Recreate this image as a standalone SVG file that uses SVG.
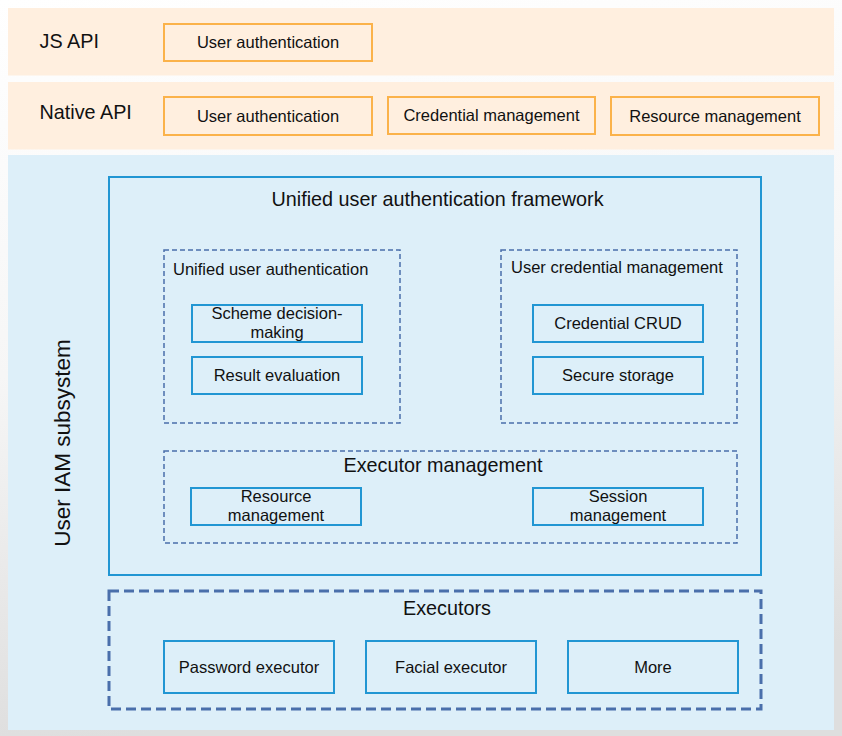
<svg xmlns="http://www.w3.org/2000/svg" width="842" height="736" viewBox="0 0 842 736">
<defs>
<linearGradient id="bg" x1="0" y1="0" x2="0.15" y2="1">
<stop offset="0" stop-color="#ffffff"/>
<stop offset="0.5" stop-color="#f6f6f6"/>
<stop offset="1" stop-color="#dedede"/>
</linearGradient>
<style>
text{font-family:"Liberation Sans",Arial,sans-serif;fill:#111;}
.band{fill:#ffefdf;}
.api{fill:none;stroke:#fbb24a;stroke-width:2;}
.blue{fill:none;stroke:#2196d3;stroke-width:2;}
.dash{fill:none;stroke:#4a6fab;stroke-width:1.5;stroke-dasharray:5 3;}
.dash2{fill:none;stroke:#4a6fab;stroke-width:3;stroke-dasharray:10 5;}
.t16{font-size:16.5px;}
.t19{font-size:19.8px;}
.c{text-anchor:middle;}
</style>
</defs>
<rect x="0" y="0" width="842" height="736" fill="url(#bg)"/>
<g id="js-api">
<rect class="band" x="8" y="8" width="826" height="67.5"/>
<text class="t19" x="39.5" y="48">JS API</text>
<g id="js-user-auth"><rect class="api" x="164" y="24" width="208" height="37"/><text class="t16 c" x="268" y="48">User authentication</text></g>
</g>
<g id="native-api">
<rect class="band" x="8" y="82" width="826" height="67.5"/>
<text class="t19" x="39.5" y="119">Native API</text>
<g id="native-user-auth"><rect class="api" x="164" y="97" width="208" height="38"/><text class="t16 c" x="268" y="122">User authentication</text></g>
<g id="native-cred"><rect class="api" x="388" y="97" width="207" height="37"/><text class="t16 c" x="491.5" y="121">Credential management</text></g>
<g id="native-res"><rect class="api" x="611" y="97" width="208" height="38"/><text class="t16 c" x="715" y="122">Resource management</text></g>
</g>
<g id="iam">
<rect x="8" y="155" width="826" height="575" fill="#ddeff9"/>
<text class="c" font-size="22.5" transform="translate(70,443) rotate(-90)">User IAM subsystem</text>
</g>
<g id="framework">
<rect class="blue" x="109" y="177" width="652" height="398"/>
<text class="t19 c" x="437.5" y="206">Unified user authentication framework</text>
</g>
<g id="unified-auth">
<rect class="dash" x="164" y="250" width="236" height="173"/>
<text class="t16" x="173" y="275">Unified user authentication</text>
</g>
<g id="scheme"><rect class="blue" x="192" y="305" width="170" height="37"/><text class="t16 c" x="277" y="319">Scheme decision-</text><text class="t16 c" x="277" y="338">making</text></g>
<g id="result"><rect class="blue" x="192" y="357" width="170" height="37"/><text class="t16 c" x="277" y="381">Result evaluation</text></g>
<g id="cred-mgmt">
<rect class="dash" x="501" y="250" width="236" height="173"/>
<text class="t16" x="511" y="273">User credential management</text>
</g>
<g id="crud"><rect class="blue" x="533" y="305" width="170" height="37"/><text class="t16 c" x="618" y="329">Credential CRUD</text></g>
<g id="storage"><rect class="blue" x="533" y="357" width="170" height="37"/><text class="t16 c" x="618" y="381">Secure storage</text></g>
<g id="executor-mgmt">
<rect class="dash" x="164" y="451" width="573" height="92"/>
<text class="t19 c" x="443" y="472">Executor management</text>
</g>
<g id="res-mgmt"><rect class="blue" x="191" y="488" width="170" height="37"/><text class="t16 c" x="276" y="502">Resource</text><text class="t16 c" x="276" y="521">management</text></g>
<g id="session-mgmt"><rect class="blue" x="533" y="488" width="170" height="37"/><text class="t16 c" x="618" y="502">Session</text><text class="t16 c" x="618" y="521">management</text></g>
<g id="executors">
<rect class="dash2" x="109" y="591" width="652" height="118"/>
<text class="t19 c" x="447" y="615">Executors</text>
</g>
<g id="password"><rect class="blue" x="164" y="641" width="170" height="52"/><text class="t16 c" x="249" y="673">Password executor</text></g>
<g id="facial"><rect class="blue" x="366" y="641" width="170" height="52"/><text class="t16 c" x="451" y="673">Facial executor</text></g>
<g id="more"><rect class="blue" x="568" y="641" width="170" height="52"/><text class="t16 c" x="653" y="673">More</text></g>
<g id="connectors"/>
</svg>
